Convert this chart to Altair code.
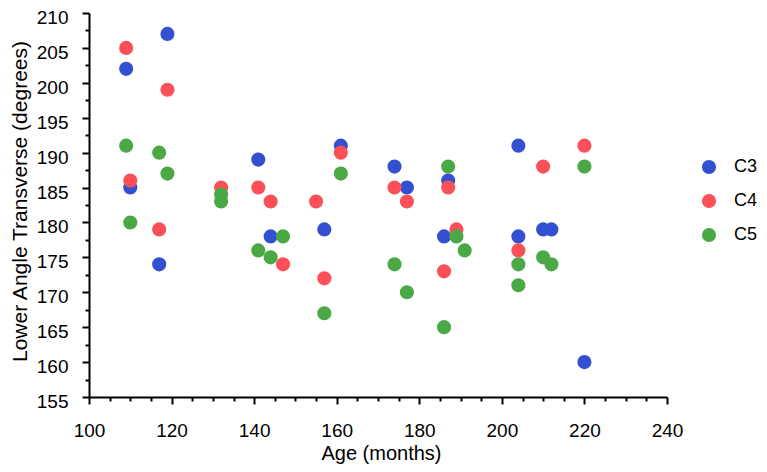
import altair as alt
import pandas as pd
import numpy as np

# C3 series
c3_age = [109, 110, 117, 119, 141, 144, 157, 161, 174, 177, 186, 187, 204, 204, 210, 212, 220]
c3_angle = [202, 185, 174, 207, 189, 178, 179, 191, 188, 185, 178, 186, 191, 178, 179, 179, 160]
# C4 series
c4_age = [109, 110, 117, 119, 132, 141, 144, 147, 155, 157, 161, 174, 177, 186, 187, 189, 204, 210, 220]
c4_angle = [205, 186, 179, 199, 185, 185, 183, 174, 183, 172, 190, 185, 183, 173, 185, 179, 176, 188, 191]
# C5 series
c5_age = [109, 110, 117, 119, 132, 132, 141, 144, 147, 157, 161, 174, 177, 186, 187, 189, 191, 204, 204, 210, 212, 220]
c5_angle = [191, 180, 190, 187, 184, 183, 176, 175, 178, 167, 187, 174, 170, 165, 188, 178, 176, 174, 171, 175, 174, 188]

series_names = ["C3", "C4", "C5"]
series_colors = ["#3350d0", "#fb5058", "#4aa845"]

x_ticks = list(range(100, 241, 5))
y_ticks = [float(v) for v in np.arange(155, 210.01, 2.5)]

rows = []
for name, ages, angles in [("C3", c3_age, c3_angle), ("C4", c4_age, c4_angle), ("C5", c5_age, c5_angle)]:
    for a, v in zip(ages, angles):
        rows.append({"Age": a, "Angle": v, "Series": name})
df = pd.DataFrame(rows)

FONT = "Liberation Sans"

chart = alt.Chart(df).mark_circle(size=200, opacity=1).encode(
    x=alt.X(
        "Age:Q",
        scale=alt.Scale(domain=[100, 240], nice=False, zero=False),
        axis=alt.Axis(
            title="Age (months)",
            values=x_ticks,
            labelExpr="datum.value % 20 == 0 ? datum.label : ''",
            tickSize={"condition": {"test": "datum.value % 20 == 0", "value": 7}, "value": 4},
            labelFlush=False,
            labelPadding=17,
            labelFontSize=19,
            titlePadding=3,
            titleX=292,
            titleFontSize=20,
        ),
    ),
    y=alt.Y(
        "Angle:Q",
        scale=alt.Scale(domain=[155, 210], nice=False, zero=False),
        axis=alt.Axis(
            title="Lower Angle Transverse (degrees)",
            values=y_ticks,
            labelExpr="datum.value % 5 == 0 ? datum.label : ''",
            tickSize={"condition": {"test": "datum.value % 5 == 0", "value": 7}, "value": 4},
            labelFlush=False,
            labelOffset=4.5,
            labelPadding=14,
            labelFontSize=19,
            titlePadding=6,
            titleY=188,
            titleFontSize=21,
        ),
    ),
    color=alt.Color(
        "Series:N",
        scale=alt.Scale(domain=series_names, range=series_colors),
        legend=alt.Legend(
            title=None,
            orient="none",
            legendX=611,
            legendY=145,
            symbolSize=200,
            symbolType="circle",
            symbolStrokeWidth=0,
            symbolOpacity=1,
            labelFontSize=18,
            labelFont=FONT,
            labelColor="#000000",
            labelOffset=16,
            rowPadding=16,
        ),
    ),
).properties(
    width=578,
    height=384,
    autosize=alt.AutoSizeParams(type="none"),
    padding={"left": 81, "top": 5, "right": 92, "bottom": 67},
).configure_view(
    stroke=None
).configure_axis(
    grid=False,
    domainColor="#000000",
    domainWidth=2,
    tickColor="#000000",
    tickWidth=2,
    labelFont=FONT,
    labelColor="#000000",
    titleFont=FONT,
    titleFontWeight="normal",
    titleColor="#000000",
)

chart.save("out.html", embed_options={"renderer": "svg", "actions": False})
